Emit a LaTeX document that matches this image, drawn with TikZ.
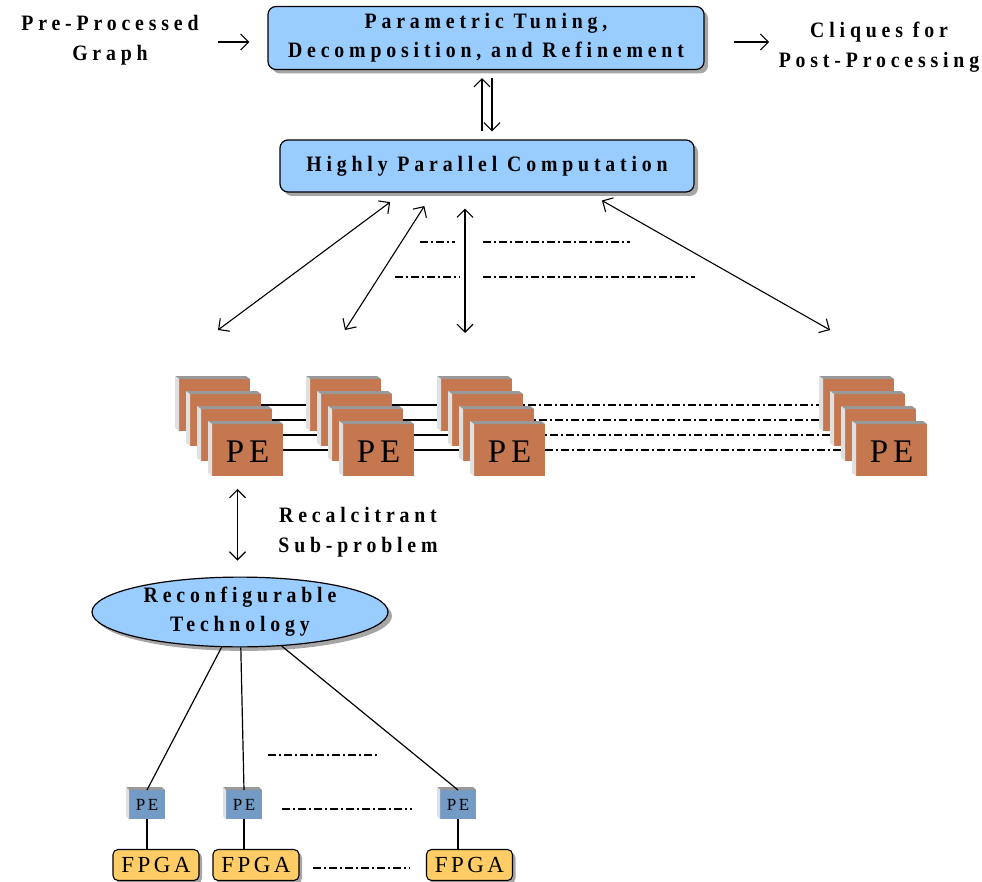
\documentclass[tikz,border=0pt]{standalone}
\usepackage{fontspec}
\setmainfont{Liberation Serif}
\newfontfamily\labelfont{Liberation Serif}[LetterSpace=22,FakeStretch=0.9]
\newfontfamily\pefont{Liberation Serif}[LetterSpace=15]
\usetikzlibrary{arrows.meta,shapes.geometric,shadows,backgrounds}
\definecolor{stageblue}{HTML}{99CCFF}
\definecolor{pebrown}{RGB}{197,119,79}
\definecolor{pesteel}{RGB}{115,155,197}
\definecolor{fpgayellow}{HTML}{FFCC66}
\tikzset{
    stage-box/.style = {draw, fill=stageblue, line width=1.2pt, rectangle, rounded corners=8pt, align=center,
        drop shadow={shadow xshift=4pt, shadow yshift=-4pt, fill=black, opacity=0.35},
        font=\labelfont\bfseries\fontsize{22}{29}\selectfont},
    plain-label/.style = {align=center, font=\labelfont\bfseries\fontsize{22}{30}\selectfont},
    tech-ellipse/.style = {draw, fill=stageblue, line width=1.2pt, ellipse, inner sep=0pt, align=center,
        drop shadow={shadow xshift=4pt, shadow yshift=-4pt, fill=black, opacity=0.35},
        font=\labelfont\bfseries\fontsize{22}{29}\selectfont},
    pe-face/.style = {fill=pebrown, inner sep=0pt, outer sep=0pt, minimum width=71pt, minimum height=52pt},
    pe-text/.style = {font=\pefont\fontsize{33}{33}\selectfont},
    small-pe/.style = {fill=pesteel, inner sep=0pt, outer sep=0pt, minimum width=36pt, minimum height=29pt,
        font=\pefont\fontsize{17}{17}\selectfont},
    fpga-box/.style = {draw, fill=fpgayellow, line width=1.1pt, rounded corners=5pt, inner sep=0pt,
        minimum width=86pt, minimum height=31pt,
        drop shadow={shadow xshift=3pt, shadow yshift=-3pt, fill=black, opacity=0.35},
        font=\pefont\fontsize{23}{23}\selectfont},
    top-side/.style = {fill=black!40},
    left-side/.style = {fill=black!12},
    link/.style = {line width=1.2pt},
    dot-dash-line/.style = {line width=1.1pt, dash pattern=on 8pt off 3pt on 2pt off 3pt},
    arrow/.style = {line width=1.1pt, -{Straight Barb[length=8pt,width=16pt]}},
    both-arrow/.style = {line width=1.1pt, {Straight Barb[length=8pt,width=16pt]}-{Straight Barb[length=8pt,width=16pt]}},
}
\begin{document}
\begin{tikzpicture}[x=1pt,y=-1pt]
\useasboundingbox (0,0) rectangle (982,882);

\node[stage-box, minimum width=436pt, minimum height=63pt] (tuning) at (486,38)
    {Parametric Tuning,\\Decomposition, and Refinement};
\node[stage-box, minimum width=414pt, minimum height=52pt] (parallel) at (487,166)
    {Highly Parallel Computation};
\node[plain-label] (graph) at (110,40) {Pre-Processed\\Graph};
\node[plain-label] (cliques) at (879,47) {Cliques for\\Post-Processing};

\draw[arrow, shorten <=16pt, shorten >=18pt] ([yshift=-2pt]graph.east) -- ([yshift=-2pt]graph.east -| tuning.west);
\draw[arrow, shorten <=29pt, shorten >=6pt] ([yshift=-4pt]tuning.east) -- ([yshift=-4pt]tuning.east -| cliques.west);
\draw[arrow, shorten <=8pt, shorten >=8pt] ([xshift=-5pt]parallel.north) -- ([xshift=-5pt]parallel.north |- tuning.south);
\draw[arrow, shorten <=8pt, shorten >=8pt] ([xshift=5pt]parallel.north |- tuning.south) -- ([xshift=5pt]parallel.north);

\coordinate (fan-1) at (218,330);
\coordinate (fan-2) at (345,330);
\coordinate (fan-3) at (465,333);
\coordinate (fan-4) at (830,330);
\foreach \i/\dx in {1/-84,2/-54,3/-22,4/101}
    \draw[both-arrow, shorten <=16pt] ([xshift=\dx pt]parallel.south) -- (fan-\i);

\draw[dot-dash-line] (420,242) -- (455,242);
\draw[dot-dash-line] (483,242) -- (630,242);
\draw[dot-dash-line] (395,277) -- (460,277);
\draw[dot-dash-line] (483,277) -- (695,277);

\foreach \s/\sx in {1/179,2/310,3/441,4/823}
    \foreach \k in {0,...,3} {
        \node[pe-face] (pe-\s-\k) at (\sx+11*\k+35.5, 405+15*\k) {};
        \fill[top-side] (pe-\s-\k.north west) -- ++(-4,-3) -- ++(71,0) -- (pe-\s-\k.north east) -- cycle;
        \fill[left-side] (pe-\s-\k.north west) -- ++(-4,-3) -- ++(0,52) -- (pe-\s-\k.south west) -- cycle;
    }
\foreach \s in {1,...,4}
    \node[pe-text] at ([yshift=-2pt]pe-\s-3) {PE};
\begin{scope}[on background layer]
\foreach \k in {0,...,3} {
    \draw[link] (pe-1-\k) -- (pe-2-\k) -- (pe-3-\k);
    \draw[dot-dash-line] (pe-3-\k) -- (pe-4-\k);
}
\end{scope}

\node[tech-ellipse, minimum width=296pt, minimum height=65pt] (tech) at (240,612)
    {Reconfigurable\\Technology};
\node[plain-label] (recalc) at (358,532) {Recalcitrant\\Sub-problem};
\draw[both-arrow, shorten <=13pt, shorten >=16pt] ([xshift=-10pt]pe-1-3.south) -- ([xshift=-10pt]pe-1-3.south |- tech.north);

\foreach \i/\px/\fx in {1/147/156,2/244/256,3/458/469.5} {
    \node[small-pe] (spe-\i) at (\px,804.5) {PE};
    \fill[top-side] (spe-\i.north west) -- ++(-3,-3) -- ++(36,0) -- (spe-\i.north east) -- cycle;
    \fill[left-side] (spe-\i.north west) -- ++(-3,-3) -- ++(0,29) -- (spe-\i.south west) -- cycle;
    \node[fpga-box] (fpga-\i) at (\fx,865) {FPGA};
    \draw[link] (tech) -- (spe-\i.north);
    \draw[link] (spe-\i) -- (spe-\i |- fpga-\i.north);
}
\draw[dot-dash-line] (268,755) -- (380,755);
\draw[dot-dash-line] (282,809) -- (412,809);
\draw[dot-dash-line] (313,868) -- (410,868);
\end{tikzpicture}
\end{document}
